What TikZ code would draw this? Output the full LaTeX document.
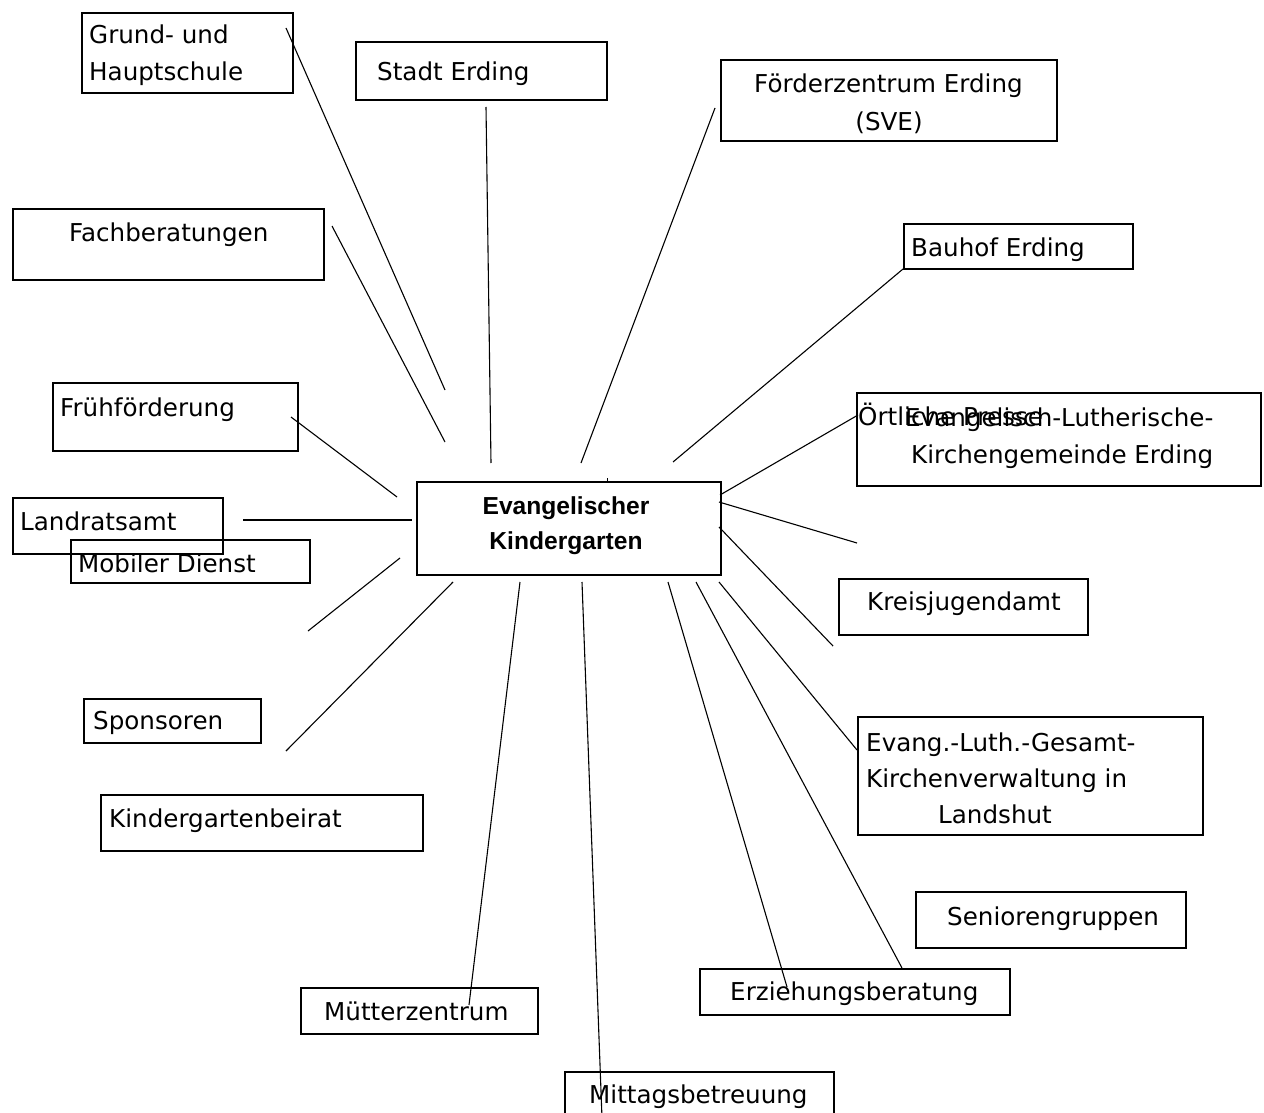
\documentclass[tikz,border=0pt]{standalone}
\usepackage{fontspec}
\setmainfont{DejaVu Sans}
\newfontfamily\centerfont{Liberation Sans}
\newcommand\txtfont{\fontsize{24.6pt}{37pt}\selectfont}
\newcommand\ctrfont{\centerfont\bfseries\fontsize{24.6pt}{35pt}\selectfont}
\begin{document}
\begin{tikzpicture}[x=1pt,y=-1pt,
  box/.style={draw, line width=1.6pt, inner sep=0pt, anchor=north west},
  lbl/.style={anchor=base west, inner sep=0pt, font=\txtfont},
  clbl/.style={anchor=base, inner sep=0pt, font=\txtfont},
  conn/.style={line width=1.1pt}]
\fill[white] (0,0) rectangle (1264,1113);
\useasboundingbox (0,0) rectangle (1264,1113);

% boxes
\node[box, minimum width=211pt, minimum height=80pt] (grund) at (81,12) {};
\node[box, minimum width=251pt, minimum height=58pt] (stadt) at (355,41) {};
\node[box, minimum width=336pt, minimum height=81pt] (foerder) at (720,59) {};
\node[box, minimum width=311pt, minimum height=71pt] (fach) at (12,208) {};
\node[box, minimum width=229pt, minimum height=45pt] (bauhof) at (903,223) {};
\node[box, minimum width=245pt, minimum height=68pt] (frueh) at (52,382) {};
\node[box, minimum width=404pt, minimum height=93pt] (kirche) at (856,392) {};
\node[box, minimum width=304pt, minimum height=93pt] (center) at (416,481) {};
\node[box, minimum width=210pt, minimum height=56pt] (landrat) at (12,497) {};
\node[box, minimum width=239pt, minimum height=43pt] (mobil) at (70,539) {};
\node[box, minimum width=177pt, minimum height=44pt] (sponsor) at (83,698) {};
\node[box, minimum width=322pt, minimum height=56pt] (beirat) at (100,794) {};
\node[box, minimum width=249pt, minimum height=56pt] (kreis) at (838,578) {};
\node[box, minimum width=345pt, minimum height=118pt] (gesamt) at (857,716) {};
\node[box, minimum width=270pt, minimum height=56pt] (senior) at (915,891) {};
\node[box, minimum width=310pt, minimum height=46pt] (erzieh) at (699,968) {};
\node[box, minimum width=237pt, minimum height=46pt] (muetter) at (300,987) {};
\node[box, minimum width=269pt, minimum height=52pt] (mittag) at (564,1071) {};

% texts
\node[lbl] (tgrund1) at (89,44) {Grund- und};
\node[lbl] (tgrund2) at (89,81) {Hauptschule};
\node[lbl] (tstadt) at (377,81) {Stadt Erding};
\node[clbl] (tfoerder1) at (888.5,92.7) {Förderzentrum Erding};
\node[clbl] (tfoerder2) at (889,130.7) {(SVE)};
\node[lbl] (tfach) at (69,241) {Fachberatungen};
\node[lbl] (tbauhof) at (911,256) {Bauhof Erding};
\node[lbl] (tfrueh) at (60,416) {Frühförderung};
\node[lbl] (tkirche1) at (905,426) {Evangelisch-Lutherische-};
\node[lbl] (tkirche2) at (911,463) {Kirchengemeinde Erding};
\node[lbl] (tpresse) at (858,425) {Örtliche Presse};
\node[anchor=base, inner sep=0pt, font=\ctrfont] (tcenter1) at (566,514) {Evangelischer};
\node[anchor=base, inner sep=0pt, font=\ctrfont] (tcenter2) at (566,549) {Kindergarten};
\node[lbl] (tlandrat) at (20,530) {Landratsamt};
\node[lbl] (tmobil) at (78,572) {Mobiler Dienst};
\node[lbl] (tsponsor) at (93,729) {Sponsoren};
\node[lbl] (tbeirat) at (109,827) {Kindergartenbeirat};
\node[lbl] (tkreis) at (867,610) {Kreisjugendamt};
\node[lbl] (tgesamt1) at (866,751) {Evang.-Luth.-Gesamt-};
\node[lbl] (tgesamt2) at (866,787) {Kirchenverwaltung in};
\node[lbl] (tgesamt3) at (938,823) {Landshut};
\node[lbl] (tsenior) at (947,925) {Seniorengruppen};
\node[lbl] (terzieh) at (730,1000) {Erziehungsberatung};
\node[lbl] (tmuetter) at (324,1020) {Mütterzentrum};
\node[lbl] (tmittag) at (589,1103) {Mittagsbetreuung};

% connector end points
\coordinate (g1) at (286,28);   \coordinate (g2) at (445,390);
\coordinate (s1) at (486,107);  \coordinate (s2) at (491,463);
\coordinate (f1) at (715,108);  \coordinate (f2) at (581,463);
\coordinate (fb1) at (332,226); \coordinate (fb2) at (445,442);
\coordinate (b1) at (903,269);  \coordinate (b2) at (673,462);
\coordinate (fr1) at (291,417); \coordinate (fr2) at (397,497);
\coordinate (p1) at (720,495);  \coordinate (p2) at (858,415);
\coordinate (l1) at (243,520);  \coordinate (l2) at (412,520);
\coordinate (m1) at (400,558);  \coordinate (m2) at (308,631);
\coordinate (kb1) at (453,582); \coordinate (kb2) at (286,751);
\coordinate (mu1) at (520,582); \coordinate (mu2) at (469,1005);
\coordinate (mi1) at (582,582); \coordinate (mi2) at (602,1118);
\coordinate (e1) at (668,582);  \coordinate (e2) at (787,987);
\coordinate (e3) at (696,582);  \coordinate (e4) at (902,968);
\coordinate (ge1) at (719,582); \coordinate (ge2) at (857,750);
\coordinate (kr1) at (719,527); \coordinate (kr2) at (833,646);
\coordinate (x1) at (719,502);  \coordinate (x2) at (857,543);

\draw[conn] (g1) -- (g2);
\draw[conn] (s1) -- (s2);
\draw[conn] (f1) -- (f2);
\draw[conn] (fb1) -- (fb2);
\draw[conn] (b1) -- (b2);
\draw[conn] (fr1) -- (fr2);
\draw[conn] (p1) -- (p2);
\draw[conn] (l1) -- (l2);
\draw[conn] (m1) -- (m2);
\draw[conn] (kb1) -- (kb2);
\draw[conn] (mu1) -- (mu2);
\draw[conn] (mi1) -- (mi2);
\draw[conn] (e1) -- (e2);
\draw[conn] (e3) -- (e4);
\draw[conn] (ge1) -- (ge2);
\draw[conn] (kr1) -- (kr2);
\draw[conn] (x1) -- (x2);

% small marks on the centre box
\coordinate (tick1) at (607,478); \coordinate (tick2) at (607,482);
\draw[line width=1pt] (tick1) -- (tick2);
\coordinate (th1) at (721,526); \coordinate (th2) at (721,540);
\draw[line width=2.6pt] (th1) -- (th2);
\end{tikzpicture}
\end{document}
